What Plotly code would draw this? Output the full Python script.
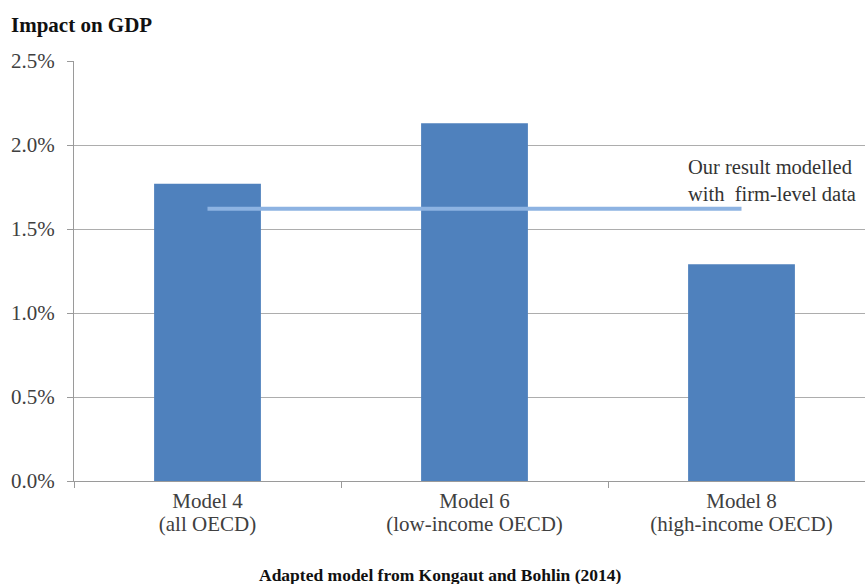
import plotly.graph_objects as go

categories = ["Model 4<br>(all OECD)", "Model 6<br>(low-income OECD)", "Model 8<br>(high-income OECD)"]
impact_pct = [1.77, 2.13, 1.29]
firm_level_pct = 1.62
line_categories = [categories[0], categories[2]]
y_ticks = [0.0, 0.5, 1.0, 1.5, 2.0, 2.5]

FONT = "Liberation Serif"
W, H = 865, 584
L, R, T, B = 74, 0, 61, 103
cat_px = 267.0
plot_w = W - L - R

styled_cats = ["<br>".join(f"<span style='font-size:21px'>{part}</span>" for part in c.split("<br>"))
               for c in categories]

fig = go.Figure()
fig.add_trace(go.Bar(x=categories, y=impact_pct, marker=dict(color="#4F81BD", line=dict(width=0)),
                     width=0.4, showlegend=False, hoverinfo="y"))
fig.add_trace(go.Scatter(x=line_categories, y=[firm_level_pct, firm_level_pct], mode="lines",
                         line=dict(color="#8DB3E2", width=4), showlegend=False))

fig.update_layout(
    width=W, height=H,
    margin=dict(l=L, r=R, t=T, b=B),
    plot_bgcolor="white", paper_bgcolor="white",
    font=dict(family=FONT, size=21, color="#404040"),
    title=dict(text="<b>Impact on GDP</b>", x=11 / W, xanchor="left", xref="container",
               y=1 - 25 / H, yanchor="middle", yref="container",
               font=dict(family=FONT, size=21, color="#111111")),
    xaxis=dict(type="category", range=[-0.5, -0.5 + plot_w / cat_px],
               tickvals=categories, ticktext=styled_cats,
               showline=True, linecolor="#9A9A9A", linewidth=1,
               ticks="outside", tickson="boundaries", ticklen=6, tickcolor="#9A9A9A",
               ticklabelstandoff=5,
               showgrid=False, tickfont=dict(size=17.7, color="#404040")),
    yaxis=dict(range=[0, 2.5], tickvals=y_ticks, ticktext=[f"{v:.1f}%" for v in y_ticks],
               showline=True, linecolor="#9A9A9A", linewidth=1,
               ticks="outside", ticklen=6, tickcolor="#9A9A9A", ticklabelstandoff=8,
               showgrid=True, gridcolor="#ADADAD", gridwidth=1, zeroline=False,
               tickfont=dict(size=21, color="#404040")),
    bargap=0.6,
)

fig.add_annotation(text="Our result modelled<br>with  firm-level data", xref="paper", yref="paper",
                   x=(686 - L) / plot_w, y=(481 - 180) / 420.0, xanchor="left", yanchor="middle",
                   align="left", showarrow=False, font=dict(family=FONT, size=20.5, color="#333333"))
fig.add_annotation(text="<b>Adapted model from Kongaut and Bohlin (2014)</b>", xref="paper", yref="paper",
                   x=(440 - L) / plot_w, y=(481 - 575) / 420.0, xanchor="center", yanchor="middle",
                   showarrow=False, font=dict(family=FONT, size=17.5, color="#111111"))

fig.write_html("out.html")
